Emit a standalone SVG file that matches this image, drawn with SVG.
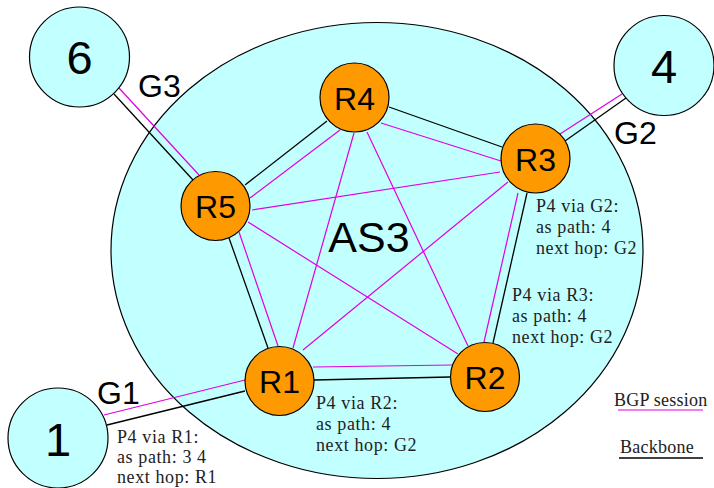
<svg xmlns="http://www.w3.org/2000/svg" width="714" height="488" viewBox="0 0 714 488">
<style>
.as{fill:#c2ffff;stroke:#000;stroke-width:1.2}
.rt{fill:#ff9900;stroke:#000;stroke-width:1.2}
.bb{stroke:#000;stroke-width:1.3;fill:none}
.bgp{stroke:#e000e0;stroke-width:1.2;fill:none}
.big{font-family:"Liberation Sans",Arial,sans-serif;fill:#000;text-anchor:middle}
.lbl{font-family:"Liberation Sans",Arial,sans-serif;fill:#000;font-size:32px}
.note{font-family:"Liberation Serif","Times New Roman",serif;fill:#222;font-size:18px;letter-spacing:0.6px}
.leg{letter-spacing:0.25px}
</style>
<rect width="714" height="488" fill="#fff"/>
<g id="as3">
<ellipse class="as" cx="377" cy="250.5" rx="266" ry="228"/>
<text class="big" x="369" y="252" font-size="43">AS3</text>
</g>
<g id="connectors">
<line class="bb" x1="114" y1="94" x2="193" y2="180"/>
<line class="bgp" x1="119" y1="88" x2="199" y2="175"/>
<line class="bb" x1="245" y1="185" x2="327" y2="121"/>
<line class="bgp" x1="250" y1="198" x2="340" y2="130"/>
<line class="bb" x1="389" y1="107" x2="502" y2="147"/>
<line class="bgp" x1="381" y1="123" x2="501" y2="161"/>
<line class="bgp" x1="252" y1="210" x2="500" y2="172"/>
<line class="bgp" x1="354" y1="133" x2="293" y2="348"/>
<line class="bgp" x1="367" y1="132" x2="468" y2="346"/>
<line class="bb" x1="229" y1="238" x2="268" y2="348"/>
<line class="bgp" x1="239" y1="232" x2="278" y2="346"/>
<line class="bgp" x1="248" y1="222" x2="458" y2="354"/>
<line class="bgp" x1="303" y1="350" x2="508" y2="182"/>
<line class="bb" x1="527" y1="193" x2="493" y2="343"/>
<line class="bgp" x1="518" y1="193" x2="484" y2="342"/>
<line class="bb" x1="314" y1="380" x2="450" y2="377"/>
<line class="bgp" x1="313" y1="367" x2="452" y2="365"/>
<line class="bb" x1="107" y1="425" x2="245" y2="391"/>
<line class="bgp" x1="104" y1="415" x2="245" y2="380"/>
<line class="bb" x1="626" y1="98" x2="565" y2="141"/>
<line class="bgp" x1="622" y1="94" x2="560" y2="134"/>
</g>
<g id="as6">
<circle class="as" cx="79.5" cy="57" r="50"/>
<text class="big" x="79.5" y="74" font-size="47">6</text>
</g>
<g id="as4">
<circle class="as" cx="664" cy="65.5" r="50"/>
<text class="big" x="664" y="83" font-size="47">4</text>
</g>
<g id="as1">
<circle class="as" cx="58" cy="438" r="50"/>
<text class="big" x="58" y="456" font-size="47">1</text>
</g>
<g id="r4">
<circle class="rt" cx="354.5" cy="97.5" r="34.5"/>
<text class="big" x="354.5" y="109.5" font-size="32">R4</text>
</g>
<g id="r5">
<circle class="rt" cx="215.5" cy="206" r="34.5"/>
<text class="big" x="215.5" y="218" font-size="32">R5</text>
</g>
<g id="r3">
<circle class="rt" cx="535.5" cy="158.5" r="34.5"/>
<text class="big" x="535.5" y="170.5" font-size="32">R3</text>
</g>
<g id="r1">
<circle class="rt" cx="279.5" cy="381" r="34.5"/>
<text class="big" x="279.5" y="393" font-size="32">R1</text>
</g>
<g id="r2">
<circle class="rt" cx="485" cy="377" r="34.5"/>
<text class="big" x="485" y="389" font-size="32">R2</text>
</g>
<g id="gateway-labels">
<text class="lbl" x="138" y="97">G3</text>
<text class="lbl" x="614" y="144">G2</text>
<text class="lbl" x="97" y="404">G1</text>
</g>
<g id="notes">
<text class="note" x="536" y="212">P4 via G2:</text>
<text class="note" x="536" y="233">as path: 4</text>
<text class="note" x="536" y="254">next hop: G2</text>
<text class="note" x="512" y="301">P4 via R3:</text>
<text class="note" x="512" y="322">as path: 4</text>
<text class="note" x="512" y="343">next hop: G2</text>
<text class="note" x="316" y="409">P4 via R2:</text>
<text class="note" x="316" y="430">as path: 4</text>
<text class="note" x="316" y="451">next hop: G2</text>
<text class="note" x="117" y="443">P4 via R1:</text>
<text class="note" x="117" y="463">as path: 3 4</text>
<text class="note" x="117" y="483">next hop: R1</text>
</g>
<g id="legend">
<text class="note leg" x="614" y="406">BGP session</text>
<line class="bgp" x1="618" y1="410" x2="703" y2="410"/>
<text class="note leg" x="620" y="453">Backbone</text>
<line class="bb" x1="619" y1="458" x2="703" y2="458" stroke="#333"/>
</g>
</svg>
